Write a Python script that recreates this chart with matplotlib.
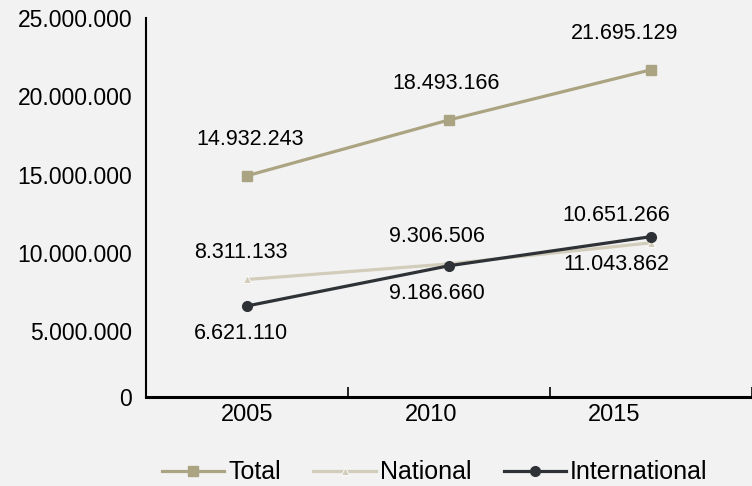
import matplotlib.pyplot as plt

years = ["2005", "2010", "2015"]
total = [14932243, 18493166, 21695129]
national = [8311133, 9306506, 10651266]
international = [6621110, 9186660, 11043862]

def fmt(v):
    return "{:,}".format(v).replace(",", ".")

plt.rcParams["font.family"] = ["Liberation Sans", "DejaVu Sans"]
bg = "#f2f2f2"
c_total = "#aba482"
c_nat = "#d2cdbb"
c_int = "#2e3237"

fig = plt.figure(figsize=(7.52, 4.86), dpi=100, facecolor=bg)
ax = fig.add_axes([146 / 752, 89 / 486, 606 / 752, 379 / 486], facecolor=bg)

x = list(range(len(years)))
ax.plot(x, total, color=c_total, lw=2.3, marker="s", ms=6.5, label="Total")
ax.plot(x, national, color=c_nat, lw=2.3, marker="^", ms=6, mec="white", mew=0.6, label="National")
ax.plot(x, international, color=c_int, lw=2.3, marker="o", ms=7, label="International")

# data labels (shifted a little left, as in the original layout)
dx = [0, -6, -29]
for i in x:
    ax.annotate(fmt(total[i]), (i, total[i]), xytext=(dx[i] + 3, 36), textcoords="offset pixels",
                ha="center", va="center", fontsize=15.5)
    ax.annotate(fmt(national[i]), (i, national[i]), xytext=(dx[i] - 6, 27), textcoords="offset pixels",
                ha="center", va="center", fontsize=15.5)
    ax.annotate(fmt(international[i]), (i, international[i]), xytext=(dx[i] - 6, -28), textcoords="offset pixels",
                ha="center", va="center", fontsize=15.5)

ax.set_xlim(-0.5, 2.5)
ymin = 810000
ax.set_ylim(ymin, 25000000)
yt = [ymin, 5000000, 10000000, 15000000, 20000000, 25000000]
ax.set_yticks(yt)
ax.set_yticklabels(["0"] + [fmt(v) for v in yt[1:]], fontsize=16.5)
ax.tick_params(axis="y", length=0, pad=10)

# category separators as inward ticks, labels placed as in the original
ax.set_xticks([0.5, 1.5, 2.5])
ax.set_xticklabels([])
ax.tick_params(axis="x", which="major", direction="in", length=7, width=1.2)
ax.set_xticks([0, 0.911, 1.817], minor=True)
ax.set_xticklabels(years, minor=True, fontsize=17)
ax.tick_params(axis="x", which="minor", length=0, pad=5)

for s in ["top", "right"]:
    ax.spines[s].set_visible(False)
ax.spines["left"].set_linewidth(1.5)
ax.spines["bottom"].set_linewidth(2.2)

fig.legend(loc="center", bbox_to_anchor=(0.578, 0.028), ncol=3, frameon=False,
           fontsize=18, handlelength=2.5, handletextpad=0.15, columnspacing=1.3)

fig.savefig("out.png", dpi=100, facecolor=bg)
